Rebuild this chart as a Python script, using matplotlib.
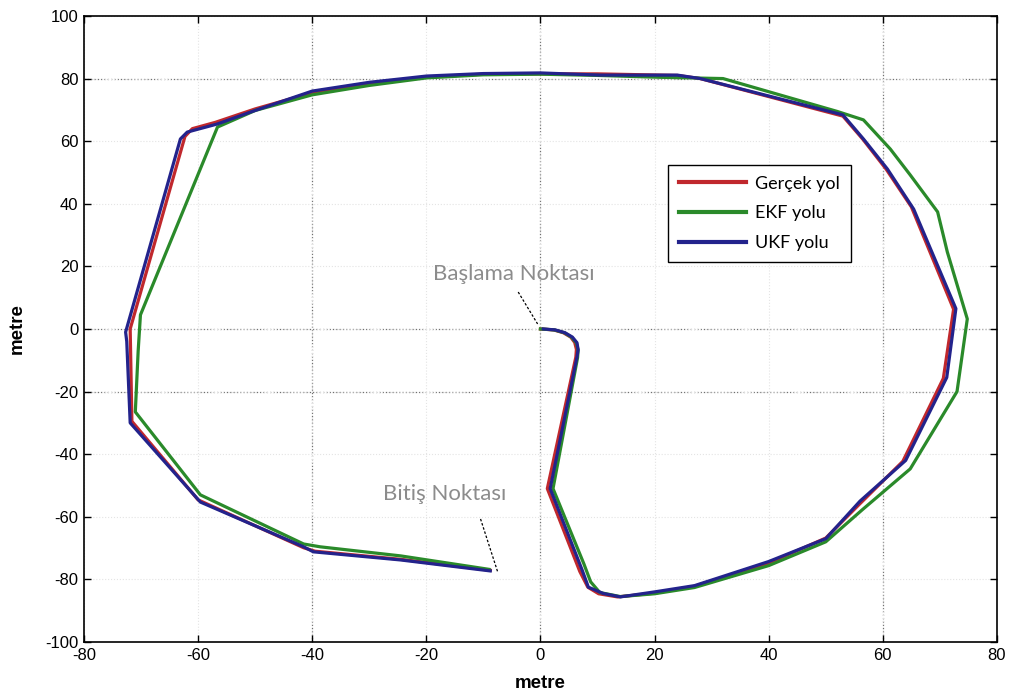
import numpy as np
import matplotlib
matplotlib.use('Agg')
import matplotlib.pyplot as plt

plt.rcParams['font.family'] = ['Liberation Sans', 'DejaVu Sans']
plt.rcParams['axes.unicode_minus'] = False

# gerçek yol (true path)
true_x = [0, 2.3, 4.0, 5.3, 6.0, 6.3, 6.2, 1.2, 6.9, 8.3, 10.2, 13.5, 20, 27,
          40, 50, 56, 63.5, 70.6, 72.4, 65, 60.6, 56.5, 53, 28, 24, 10, 0, -10,
          -20, -30, -40, -50, -57, -61, -62.3, -71.9, -71.6, -60, -41.5, -39.5,
          -24.5, -8.8]
true_y = [0, -0.3, -1.2, -2.6, -4.3, -6.5, -9, -51, -77.5, -82.5, -84.6, -85.6,
          -84.4, -82.2, -74.8, -66.8, -55.8, -42.3, -15.8, 6.3, 39, 51, 60.6,
          68, 80, 81, 81.5, 81.5, 81.4, 80.5, 78.5, 75.5, 70.3, 66, 64, 61.5, 0,
          -29.5, -54.6, -69.9, -71, -73.6, -77.1]

# EKF yolu
ekf_x = [0, 2.4, 4.2, 5.5, 6.3, 6.6, 6.5, 2.2, 7.6, 8.8, 10.4, 14, 20, 27, 40,
         50, 56.5, 64.8, 73, 74.8, 71.3, 69.6, 64.8, 61.3, 56.6, 52, 32, 21,
         10, 0, -10, -20, -30, -40, -50, -56.6, -70.1, -70.5, -71, -59.6, -41.5,
         -38.6, -24.5, -9]
ekf_y = [0, -0.3, -1.2, -2.7, -4.5, -6.8, -9.2, -51, -75, -80.8, -84.2, -85.5,
         -84.6, -82.6, -75.6, -68, -57.6, -44.7, -20, 3.2, 24.6, 37.4, 49.2,
         57.5, 66.8, 69.5, 80, 80.4, 81, 81.4, 81.2, 80.2, 77.8, 74.8, 69.8,
         64.5, 4.5, -7, -26.5, -53, -68.7, -69.6, -72.5, -76.8]

# UKF yolu
ukf_x = [0.5, 2.6, 4.3, 5.6, 6.4, 6.6, 6.4, 1.7, 7.3, 8.4, 11, 14, 20, 27, 40,
         50, 56, 64, 71.2, 72.8, 65.4, 60.8, 56.6, 53, 28, 24, 10.5, 0, -10,
         -20, -30, -40, -50.8, -56.6, -61.9, -63.1, -72.7, -72.5, -71.9, -59.6,
         -41.5, -39.8, -24.5, -8.8]
ukf_y = [0, -0.3, -1.2, -2.6, -4.4, -6.6, -9, -51, -77, -82.5, -84.5, -85.6,
         -84, -82, -74.3, -67, -55, -42, -15.5, 6.5, 38.3, 51.1, 60.7, 68.4,
         80, 81.1, 81.1, 81.8, 81.6, 80.8, 78.8, 76, 69.3, 65.5, 62.9, 60.7,
         -1, -4, -30, -55.3, -69.6, -71.2, -73.8, -77.3]

labels = ['Gerçek yol', 'EKF yolu', 'UKF yolu']
colors = ['#c0282d', '#2a8a2a', '#23238c']

x_ticks = np.arange(-80, 81, 20)
y_ticks = np.arange(-100, 101, 20)

fig = plt.figure(figsize=(10.14, 7.0), dpi=100)
ax = fig.add_axes([0.0828, 0.0829, 0.9004, 0.8943])

for xs, ys, lab, c in zip([true_x, ekf_x, ukf_x], [true_y, ekf_y, ukf_y],
                          labels, colors):
    ax.plot(xs, ys, color=c, linewidth=2.3, label=lab, solid_joinstyle='round')

ax.set_xlim(-80, 80)
ax.set_ylim(-100, 100)
ax.set_xticks(x_ticks)
ax.set_yticks(y_ticks)
ax.tick_params(direction='in', top=True, right=True, length=5, width=1,
               labelsize=12, pad=4)
for s in ax.spines.values():
    s.set_linewidth(1.2)

# MATLAB tarzı ızgara: bazıları soluk, bazıları belirgin
ax.grid(True, linestyle=':', color='#e4e4e4', linewidth=0.8)
for v in [-40, 0, 60]:
    ax.axvline(v, linestyle=':', color='#707070', linewidth=0.9, zorder=0.5)
for h in [80, 0, -20]:
    ax.axhline(h, linestyle=':', color='#707070', linewidth=0.9, zorder=0.5)

ax.set_xlabel('metre', fontsize=13.5, fontweight='bold', labelpad=9)
ax.set_ylabel('metre', fontsize=13.5, fontweight='bold', labelpad=14)

# başlangıç / bitiş etiketleri
ax.text(-4.6, 17.6, 'Başlama Noktası', color='#8c8c8c', fontsize=16,
        family='Lato', ha='center', va='center')
ax.plot([-3.9, -0.5], [11.8, 1.6], linestyle='--', color='black', linewidth=0.9,
        dashes=(2, 1.5))
ax.text(-16.8, -52.7, 'Bitiş Noktası', color='#8c8c8c', fontsize=16,
        family='Lato', ha='center', va='center')
ax.plot([-10.5, -7.5], [-60.7, -77.6], linestyle='--', color='black',
        linewidth=0.9, dashes=(2, 1.5))

leg = ax.legend(loc='upper left', bbox_to_anchor=(0.64, 0.762),
                prop={'family': 'Lato', 'size': 13}, fancybox=False,
                edgecolor='black', framealpha=1, handlelength=3.7,
                borderpad=0.6, labelspacing=0.75, handletextpad=0.5,
                borderaxespad=0)
leg.get_frame().set_linewidth(1.0)
for line in leg.get_lines():
    line.set_linewidth(3)

fig.savefig('out.png', dpi=100)
